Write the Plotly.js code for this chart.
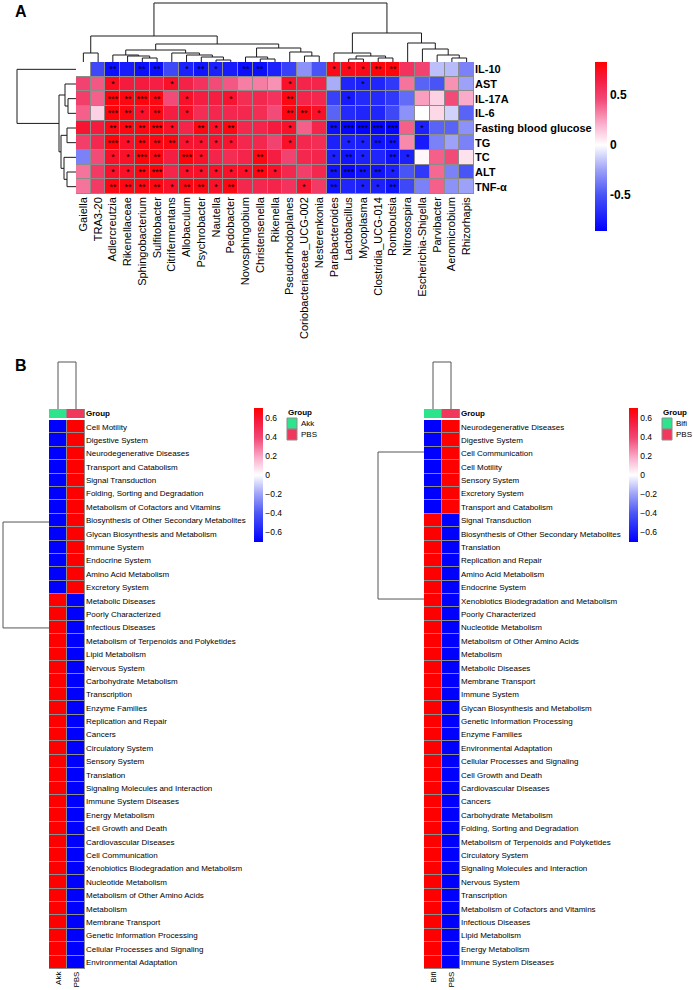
<!DOCTYPE html>
<html><head><meta charset="utf-8">
<script src="https://cdn.plot.ly/plotly-3.0.1.min.js"></script>
<style>html,body{margin:0;padding:0;background:#fff;}#chart{width:693px;height:990px;}</style>
</head><body><div id="chart"></div>
<script>
// ---------------- DATA: panel A ----------------
const taxa = ['Gaiella','TRA3-20','Adlercreutzia','Rikenellaceae','Sphingobacterium','Sulfitobacter','Citrifermentans','Allobaculum','Psychrobacter','Nautella','Pedobacter','Novosphingobium','Christensenella','Rikenella','Pseudorhodoplanes','Coriobacteriaceae_UCG-002','Nesterenkonia','Parabacteroides','Lactobacillus','Mycoplasma','Clostridia_UCG-014','Romboutsia','Nitrosospira','Escherichia-Shigella','Parvibacter','Aeromicrobium','Rhizorhapis'];
const indices = ['IL-10','AST','IL-17A','IL-6','Fasting blood glucose','TG','TC','ALT','TNF-α'];

const rIL10 = [0.00,-0.55,-0.80,-0.74,-0.80,-0.80,-0.55,-0.72,-0.78,-0.72,-0.74,-0.80,-0.80,-0.72,-0.58,-0.30,-0.50,0.76,0.76,0.76,0.80,0.80,0.55,0.48,-0.17,-0.18,-0.35];
const rAST  = [0.48,0.42,0.75,0.66,0.66,0.64,0.72,0.63,0.55,0.45,0.42,0.33,0.33,0.28,0.72,0.62,0.62,-0.22,-0.70,-0.72,-0.70,-0.62,0.35,-0.45,-0.50,0.28,-0.25];
const rIL17A= [0.50,0.40,0.80,0.78,0.80,0.78,0.45,0.72,0.65,0.65,0.70,0.58,0.60,0.55,0.78,0.62,0.60,-0.58,-0.75,-0.68,-0.68,-0.62,-0.42,0.25,0.12,0.45,0.22];
const rIL6  = [0.40,0.12,0.80,0.78,0.72,0.78,0.65,0.72,0.58,0.60,0.60,0.60,0.58,0.45,0.78,0.78,0.72,-0.45,-0.68,-0.70,-0.70,-0.55,-0.30,0.00,0.10,-0.12,-0.45];
const rFBG  = [0.70,0.66,0.78,0.78,0.78,0.80,0.72,0.62,0.78,0.72,0.78,0.60,0.62,0.66,0.72,0.40,0.62,-0.80,-0.84,-0.84,-0.84,-0.84,0.40,-0.72,-0.45,-0.45,-0.30];
const rTG   = [0.50,0.60,0.80,0.72,0.78,0.78,0.78,0.70,0.70,0.70,0.70,0.60,0.60,0.48,0.72,0.60,0.58,-0.72,-0.72,-0.72,-0.78,-0.78,0.30,-0.75,-0.35,-0.25,-0.35];
const rTC   = [-0.35,0.45,0.72,0.72,0.80,0.78,0.65,0.80,0.72,0.62,0.58,0.62,0.78,0.65,0.48,0.60,0.62,-0.72,-0.78,-0.72,-0.70,-0.78,-0.72,0.02,0.40,0.45,0.08];
const rALT  = [0.35,0.52,0.72,0.72,0.78,0.80,0.62,0.72,0.72,0.72,0.72,0.72,0.78,0.72,0.60,0.50,0.60,-0.78,-0.82,-0.78,-0.78,-0.72,-0.50,-0.62,0.38,-0.35,-0.50];
const rTNF  = [0.35,0.52,0.78,0.78,0.78,0.78,0.72,0.78,0.78,0.72,0.78,0.60,0.60,0.62,0.55,0.70,0.52,-0.78,-0.70,-0.72,-0.72,-0.78,-0.55,-0.35,0.40,-0.30,-0.25];

const sIL10 = ['','','**','','**','**','','*','**','*','','**','**','','','','','*','*','*','**','**','','','','',''];
const sAST  = ['','','*','','','','*','','','','','','','','*','','','','','*','','','','','','',''];
const sIL17A= ['','','***','**','***','**','','*','','','*','','','','**','','','','*','','','','','','','',''];
const sIL6  = ['','','***','**','*','**','','*','','','','','','','**','**','*','','','','','','','','','',''];
const sFBG  = ['','','**','**','**','***','*','','**','*','**','','','','*','','','**','***','***','***','***','','*','','',''];
const sTG   = ['','','***','*','**','**','**','*','*','*','*','','','','*','','','','*','*','**','**','','','','',''];
const sTC   = ['','','*','*','***','**','','***','*','','','','**','','','','','*','**','*','','**','*','','','',''];
const sALT  = ['','','*','*','**','***','','*','*','*','*','*','**','*','','','','**','***','**','**','*','','','','',''];
const sTNF  = ['','','**','**','**','**','*','**','**','*','**','','','','','*','','**','','*','*','**','','','','',''];

// dendrograms (merge heights, leaves by name)
const colTreeA = [
  [['Gaiella','TRA3-20',9],
   [[['Adlercreutzia',['Rikenellaceae',['Sphingobacterium','Sulfitobacter',4],6],7],
     ['Citrifermentans',['Allobaculum',['Psychrobacter',['Nautella','Pedobacter',2],5],7],9],12],
    [['Novosphingobium',['Christensenella','Rikenella',3],5],
     ['Pseudorhodoplanes',['Coriobacteriaceae_UCG-002','Nesterenkonia',6],10],14],18],26],
  [['Parabacteroides',[['Lactobacillus','Mycoplasma',3],['Clostridia_UCG-014','Romboutsia',4],6],9],
   ['Nitrosospira',['Escherichia-Shigella',['Parvibacter',['Aeromicrobium','Rhizorhapis',4],7],13],19],29],
  59];
const rowTreeA = ['IL-10',[['AST',['IL-17A','IL-6',8],11],[['Fasting blood glucose','TG',9],['TC',['ALT','TNF-α',9],12],15],17],59];

// ---------------- DATA: panel B ----------------
const pathwaysAkk = ['Cell Motility','Digestive System','Neurodegenerative Diseases','Transport and Catabolism','Signal Transduction','Folding, Sorting and Degradation','Metabolism of Cofactors and Vitamins','Biosynthesis of Other Secondary Metabolites','Glycan Biosynthesis and Metabolism','Immune System','Endocrine System','Amino Acid Metabolism','Excretory System','Metabolic Diseases','Poorly Characterized','Infectious Diseases','Metabolism of Terpenoids and Polyketides','Lipid Metabolism','Nervous System','Carbohydrate Metabolism','Transcription','Enzyme Families','Replication and Repair','Cancers','Circulatory System','Sensory System','Translation','Signaling Molecules and Interaction','Immune System Diseases','Energy Metabolism','Cell Growth and Death','Cardiovascular Diseases','Cell Communication','Xenobiotics Biodegradation and Metabolism','Nucleotide Metabolism','Metabolism of Other Amino Acids','Metabolism','Membrane Transport','Genetic Information Processing','Cellular Processes and Signaling','Environmental Adaptation'];
const valAkk_Akk = [-0.71,-0.71,-0.71,-0.71,-0.71,-0.71,-0.71,-0.71,-0.71,-0.71,-0.71,-0.71,-0.71,0.71,0.71,0.71,0.71,0.71,0.71,0.71,0.71,0.71,0.71,0.71,0.71,0.71,0.71,0.71,0.71,0.71,0.71,0.71,0.71,0.71,0.71,0.71,0.71,0.71,0.71,0.71,0.71];
const valAkk_PBS = [0.71,0.71,0.71,0.71,0.71,0.71,0.71,0.71,0.71,0.71,0.71,0.71,0.71,-0.71,-0.71,-0.71,-0.71,-0.71,-0.71,-0.71,-0.71,-0.71,-0.71,-0.71,-0.71,-0.71,-0.71,-0.71,-0.71,-0.71,-0.71,-0.71,-0.71,-0.71,-0.71,-0.71,-0.71,-0.71,-0.71,-0.71,-0.71];
const groupsAkk = ['Akk','PBS'];

const pathwaysBifi = ['Neurodegenerative Diseases','Digestive System','Cell Communication','Cell Motility','Sensory System','Excretory System','Transport and Catabolism','Signal Transduction','Biosynthesis of Other Secondary Metabolites','Translation','Replication and Repair','Amino Acid Metabolism','Endocrine System','Xenobiotics Biodegradation and Metabolism','Poorly Characterized','Nucleotide Metabolism','Metabolism of Other Amino Acids','Metabolism','Metabolic Diseases','Membrane Transport','Immune System','Glycan Biosynthesis and Metabolism','Genetic Information Processing','Enzyme Families','Environmental Adaptation','Cellular Processes and Signaling','Cell Growth and Death','Cardiovascular Diseases','Cancers','Carbohydrate Metabolism','Folding, Sorting and Degradation','Metabolism of Terpenoids and Polyketides','Circulatory System','Signaling Molecules and Interaction','Nervous System','Transcription','Metabolism of Cofactors and Vitamins','Infectious Diseases','Lipid Metabolism','Energy Metabolism','Immune System Diseases'];
const valBifi_Bifi = [-0.71,-0.71,-0.71,-0.71,-0.71,-0.71,-0.71,0.71,0.71,0.71,0.71,0.71,0.71,0.71,0.71,0.71,0.71,0.71,0.71,0.71,0.71,0.71,0.71,0.71,0.71,0.71,0.71,0.71,0.71,0.71,0.71,0.71,0.71,0.71,0.71,0.71,0.71,0.71,0.71,0.71,0.71];
const valBifi_PBS = [0.71,0.71,0.71,0.71,0.71,0.71,0.71,-0.71,-0.71,-0.71,-0.71,-0.71,-0.71,-0.71,-0.71,-0.71,-0.71,-0.71,-0.71,-0.71,-0.71,-0.71,-0.71,-0.71,-0.71,-0.71,-0.71,-0.71,-0.71,-0.71,-0.71,-0.71,-0.71,-0.71,-0.71,-0.71,-0.71,-0.71,-0.71,-0.71,-0.71];
const groupsBifi = ['Bifi','PBS'];

const colTreeBL = ['Akk','PBS',47];
const rowTreeBL = [7.12, 15.03, 46];   // cluster node positions (row units), height
const colTreeBR = ['Bifi','PBS',47];
const rowTreeBR = [1.89, 12.87, 46];

const ticksA = [-0.5, 0, 0.5];
const ticksB = [-0.6, -0.4, -0.2, 0, 0.2, 0.4, 0.6];

// ---------------- helpers ----------------
const W = 693, H = 990;
const fx = p => p / W, fy = p => 1 - p / H;
const FONT = 'Liberation Sans, Arial, Helvetica, sans-serif';
const GREEN = 'rgb(44,228,140)', PINK = 'rgb(240,56,92)', GRID = '#8c8c8c';

function buildScale(zmin, zmax) {
  const w = (0 - zmin) / (zmax - zmin);
  const neg = [[0,'rgb(0,0,255)'],[0.42,'rgb(72,84,246)'],[0.72,'rgb(160,164,248)'],[1,'rgb(255,255,255)']];
  const pos = [[0.25,'rgb(250,176,206)'],[0.55,'rgb(242,72,118)'],[0.8,'rgb(245,26,62)'],[1,'rgb(255,0,0)']];
  const out = neg.map(s => [s[0] * w, s[1]]);
  pos.forEach(s => out.push([w + s[0] * (1 - w), s[1]]));
  return out;
}

function dendro(tree, order) {
  const idx = {}; order.forEach((n, i) => idx[n] = i);
  const P = [], Hh = [];
  function walk(node) {
    if (typeof node === 'string') return {p: idx[node], h: 0};
    if (typeof node === 'number') return {p: node, h: 0};
    const a = walk(node[0]), b = walk(node[1]), h = node[2];
    P.push(a.p, a.p, b.p, b.p, null); Hh.push(a.h, h, h, b.h, null);
    return {p: (a.p + b.p) / 2, h: h};
  }
  walk(tree);
  return {pos: P, hgt: Hh};
}

const zA = [rIL10, rAST, rIL17A, rIL6, rFBG, rTG, rTC, rALT, rTNF];
const sA = [sIL10, sAST, sIL17A, sIL6, sFBG, sTG, sTC, sALT, sTNF];
const zBL = valAkk_Akk.map((v, i) => [v, valAkk_PBS[i]]);
const zBR = valBifi_Bifi.map((v, i) => [v, valBifi_PBS[i]]);

const zminA = -0.86, zmaxA = 0.83, zminB = -0.707, zmaxB = 0.707;

const dcA = dendro(colTreeA, taxa);
const drA = dendro(rowTreeA, indices);
const dcBL = dendro(colTreeBL, groupsAkk);
const drBL = dendro(rowTreeBL, []);
const dcBR = dendro(colTreeBR, groupsBifi);
const drBR = dendro(rowTreeBR, []);

function cbar(x, ytop, len, thick, tv, tt, size, bold) {
  return {x: fx(x), xanchor: 'left', xpad: 0, y: fy(ytop), yanchor: 'top', ypad: 0,
    len: len, lenmode: 'pixels', thickness: thick, thicknessmode: 'pixels', outlinewidth: 0,
    tickmode: 'array', tickvals: tv, ticktext: tt.map(t => bold ? '<b>' + t + '</b>' : t),
    ticks: '', tickfont: {family: FONT, size: size, color: '#000'}};
}

const lineA = {color: '#1a1a1a', width: 1};
const lineB = {color: '#555', width: 1};

const traces = [
  {type: 'heatmap', x: taxa, y: indices, z: zA, text: sA, texttemplate: '%{text}',
   textfont: {family: FONT, size: 9, color: '#000'},
   colorscale: buildScale(zminA, zmaxA), zmin: zminA, zmax: zmaxA, xgap: 1, ygap: 1,
   xaxis: 'x', yaxis: 'y', hoverinfo: 'skip',
   colorbar: cbar(595, 62, 169, 12, ticksA, ['-0.5','0','0.5'], 12, true)},
  {type: 'scatter', mode: 'lines', x: dcA.pos, y: dcA.hgt, line: lineA, xaxis: 'x2', yaxis: 'y2', hoverinfo: 'skip', showlegend: false},
  {type: 'scatter', mode: 'lines', x: drA.hgt, y: drA.pos, line: lineA, xaxis: 'x3', yaxis: 'y3', hoverinfo: 'skip', showlegend: false},

  {type: 'heatmap', x: groupsAkk, y: pathwaysAkk, z: zBL,
   colorscale: buildScale(zminB, zmaxB), zmin: zminB, zmax: zmaxB, xgap: 1, ygap: 1,
   xaxis: 'x4', yaxis: 'y4', hoverinfo: 'skip',
   colorbar: cbar(254, 408, 134, 9, ticksB, ['−0.6','−0.4','−0.2','0','0.2','0.4','0.6'], 8.5, false)},
  {type: 'heatmap', x: groupsAkk, y: ['Group'], z: [[0, 1]],
   colorscale: [[0, GREEN], [0.5, GREEN], [0.5, PINK], [1, PINK]], zmin: 0, zmax: 1, xgap: 1,
   showscale: false, xaxis: 'x5', yaxis: 'y5', hoverinfo: 'skip'},
  {type: 'scatter', mode: 'lines', x: dcBL.pos, y: dcBL.hgt, line: lineB, xaxis: 'x6', yaxis: 'y6', hoverinfo: 'skip', showlegend: false},
  {type: 'scatter', mode: 'lines', x: drBL.hgt, y: drBL.pos, line: lineB, xaxis: 'x7', yaxis: 'y7', hoverinfo: 'skip', showlegend: false},

  {type: 'heatmap', x: groupsBifi, y: pathwaysBifi, z: zBR,
   colorscale: buildScale(zminB, zmaxB), zmin: zminB, zmax: zmaxB, xgap: 1, ygap: 1,
   xaxis: 'x8', yaxis: 'y8', hoverinfo: 'skip',
   colorbar: cbar(629, 408, 134, 9, ticksB, ['−0.6','−0.4','−0.2','0','0.2','0.4','0.6'], 8.5, false)},
  {type: 'heatmap', x: groupsBifi, y: ['Group'], z: [[0, 1]],
   colorscale: [[0, GREEN], [0.5, GREEN], [0.5, PINK], [1, PINK]], zmin: 0, zmax: 1, xgap: 1,
   showscale: false, xaxis: 'x9', yaxis: 'y9', hoverinfo: 'skip'},
  {type: 'scatter', mode: 'lines', x: dcBR.pos, y: dcBR.hgt, line: lineB, xaxis: 'x10', yaxis: 'y10', hoverinfo: 'skip', showlegend: false},
  {type: 'scatter', mode: 'lines', x: drBR.hgt, y: drBR.pos, line: lineB, xaxis: 'x11', yaxis: 'y11', hoverinfo: 'skip', showlegend: false}
];

const hid = (dom, rng, anchor) => ({domain: dom, range: rng, visible: false, fixedrange: true, anchor: anchor});
const catX = (dom, rng, anchor, size) => ({domain: dom, range: rng, anchor: anchor, type: 'category',
  tickangle: -90, ticks: '', showgrid: false, zeroline: false, showline: false, fixedrange: true,
  tickfont: {family: FONT, size: size, color: '#000'}});
const catY = (dom, rng, anchor, size, bold, vals) => ({domain: dom, range: rng, anchor: anchor, type: 'category', side: 'right',
  ticks: '', showgrid: false, zeroline: false, showline: false, fixedrange: true,
  tickmode: 'array', tickvals: vals, ticktext: vals.map(v => bold ? '<b>' + v + '</b>' : v),
  tickfont: {family: FONT, size: size, color: '#000'}});

const nA = taxa.length, mA = indices.length, nB = pathwaysAkk.length;
const dAx = [fx(76), fx(474)], dAy = [fy(194), fy(62)];
const dBLx = [fx(49), fx(85)], dBRx = [fx(424), fx(460)];
const dBy = [fy(969), fy(420)], dGy = [fy(418), fy(409)], dDy = [fy(409), fy(355)];

const layout = {
  width: W, height: H, margin: {l: 0, r: 0, t: 0, b: 0}, autosize: false,
  paper_bgcolor: '#fff', plot_bgcolor: 'rgba(0,0,0,0)', showlegend: false,
  font: {family: FONT, color: '#000'},
  xaxis: catX(dAx, [-0.5, nA - 0.5], 'y', 11),
  yaxis: catY(dAy, [mA - 0.5, -0.5], 'x', 11, true, indices),
  xaxis2: hid(dAx, [-0.5, nA - 0.5], 'y2'), yaxis2: hid([fy(62), 1], [0, 62], 'x2'),
  xaxis3: hid([0, fx(76)], [76, 0], 'y3'), yaxis3: hid(dAy, [mA - 0.5, -0.5], 'x3'),
  xaxis4: catX(dBLx, [-0.5, 1.5], 'y4', 8),
  yaxis4: catY(dBy, [nB - 0.5, -0.5], 'x4', 8, false, pathwaysAkk),
  xaxis5: hid(dBLx, [-0.5, 1.5], 'y5'),
  yaxis5: catY(dGy, [0.5, -0.5], 'x5', 8, true, ['Group']),
  xaxis6: hid(dBLx, [-0.5, 1.5], 'y6'), yaxis6: hid(dDy, [0, 54], 'x6'),
  xaxis7: hid([0, fx(49)], [49, 0], 'y7'), yaxis7: hid(dBy, [nB - 0.5, -0.5], 'x7'),
  xaxis8: catX(dBRx, [-0.5, 1.5], 'y8', 8),
  yaxis8: catY(dBy, [nB - 0.5, -0.5], 'x8', 8, false, pathwaysBifi),
  xaxis9: hid(dBRx, [-0.5, 1.5], 'y9'),
  yaxis9: catY(dGy, [0.5, -0.5], 'x9', 8, true, ['Group']),
  xaxis10: hid(dBRx, [-0.5, 1.5], 'y10'), yaxis10: hid(dDy, [0, 54], 'x10'),
  xaxis11: hid([fx(330), fx(424)], [94, 0], 'y11'), yaxis11: hid(dBy, [nB - 0.5, -0.5], 'x11'),
  shapes: [],
  annotations: []
};

// grey cell-border underlays
function underlay(xr, yr, x0, x1, y0, y1) {
  layout.shapes.push({type: 'rect', xref: xr, yref: yr, x0: x0, x1: x1, y0: y0, y1: y1,
    fillcolor: GRID, line: {color: GRID, width: 1}, layer: 'below'});
}
underlay('x', 'y', -0.5, nA - 0.5, -0.5, mA - 0.5);
underlay('x4', 'y4', -0.5, 1.5, -0.5, nB - 0.5);
underlay('x5', 'y5', -0.5, 1.5, -0.5, 0.5);
underlay('x8', 'y8', -0.5, 1.5, -0.5, nB - 0.5);
underlay('x9', 'y9', -0.5, 1.5, -0.5, 0.5);

// group legends
function groupLegend(x, levels) {
  layout.annotations.push({xref: 'paper', yref: 'paper', x: fx(x - 1), y: fy(412), xanchor: 'left', yanchor: 'middle',
    text: '<b>Group</b>', showarrow: false, font: {family: FONT, size: 8, color: '#000'}});
  const cols = [GREEN, PINK];
  levels.forEach((lv, i) => {
    const top = 418 + i * 11;
    layout.shapes.push({type: 'rect', xref: 'paper', yref: 'paper', x0: fx(x), x1: fx(x + 10), y0: fy(top), y1: fy(top + 11),
      fillcolor: cols[i], line: {color: GRID, width: 1}});
    layout.annotations.push({xref: 'paper', yref: 'paper', x: fx(x + 12), y: fy(top + 5.5), xanchor: 'left', yanchor: 'middle',
      text: lv, showarrow: false, font: {family: FONT, size: 8, color: '#000'}});
  });
}
groupLegend(287, groupsAkk);
groupLegend(662, groupsBifi);

layout.annotations.push({xref: 'paper', yref: 'paper', x: fx(13), y: fy(12), xanchor: 'left', yanchor: 'middle',
  text: '<b>A</b>', showarrow: false, font: {family: FONT, size: 16, color: '#000'}});
layout.annotations.push({xref: 'paper', yref: 'paper', x: fx(13), y: fy(366), xanchor: 'left', yanchor: 'middle',
  text: '<b>B</b>', showarrow: false, font: {family: FONT, size: 16, color: '#000'}});

Plotly.newPlot('chart', traces, layout, {staticPlot: true, displayModeBar: false});
</script></body></html>
